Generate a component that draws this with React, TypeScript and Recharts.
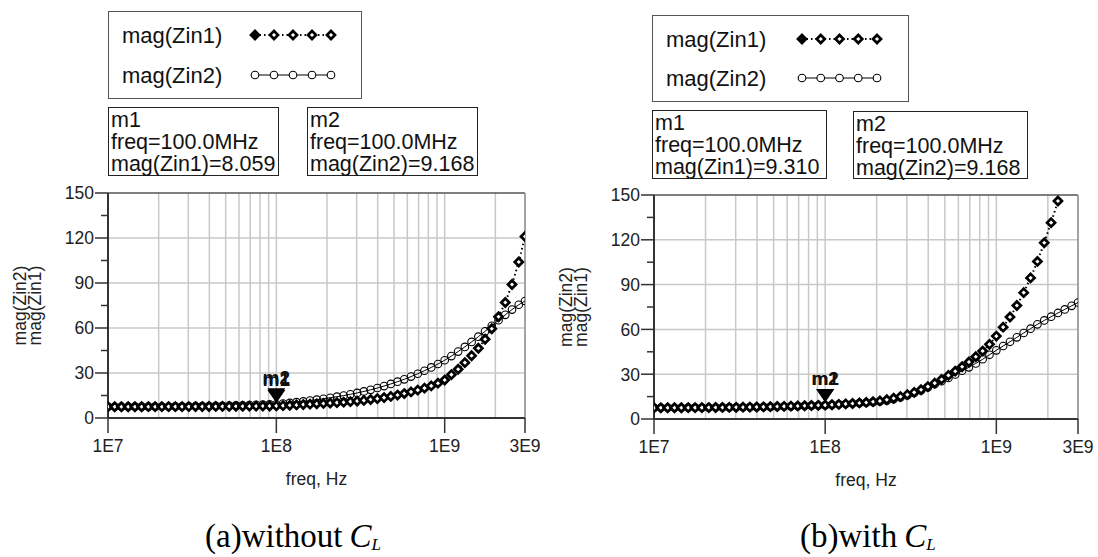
import { LineChart, Line, XAxis, YAxis, ReferenceLine, ReferenceDot } from 'recharts'

// sweep points, MHz (log sweep 1E7..3E9)
const freqMHz = [
  10, 10.96, 12.02, 13.18, 14.45, 15.85, 17.38, 19.05, 20.89, 22.91, 25.12, 27.54, 30.2, 33.11, 36.31,
  39.81, 43.65, 47.86, 52.48, 57.54, 63.1, 69.18, 75.86, 83.18, 91.2, 100, 109.6, 120.2, 131.8, 144.5,
  158.5, 173.8, 190.5, 208.9, 229.1, 251.2, 275.4, 302, 331.1, 363.1, 398.1, 436.5, 478.6, 524.8, 575.4,
  631, 691.8, 758.6, 831.8, 912, 1000, 1096, 1202, 1318, 1445, 1585, 1738, 1905, 2089, 2291, 2512, 2754,
  3000,
]

// (a) without CL
const zin1A = [
  7.5, 7.5, 7.51, 7.51, 7.52, 7.52, 7.53, 7.54, 7.55, 7.56, 7.57, 7.58, 7.6, 7.62, 7.64, 7.66, 7.69, 7.72,
  7.75, 7.79, 7.83, 7.87, 7.92, 7.97, 8.01, 8.06, 8.25, 8.45, 8.7, 8.95, 9.2, 9.45, 9.7, 9.95, 10.25,
  10.55, 10.9, 11.3, 11.75, 12.3, 12.9, 13.6, 14.4, 15.3, 16.3, 17.4, 18.6, 19.9, 21.4, 23.2, 25.3, 28.9,
  32.5, 36.9, 41.5, 46.5, 52.5, 59.5, 67.5, 77, 89, 104, 121,
]
const zin2A = [
  7.5, 7.51, 7.52, 7.53, 7.55, 7.57, 7.59, 7.62, 7.65, 7.68, 7.72, 7.76, 7.81, 7.86, 7.92, 7.99, 8.07,
  8.16, 8.26, 8.37, 8.49, 8.62, 8.76, 8.91, 9.04, 9.17, 9.6, 10.05, 10.55, 11.05, 11.6, 12.2, 12.85, 13.5,
  14.2, 14.95, 15.8, 16.7, 17.7, 18.8, 20, 21.3, 22.7, 24.2, 25.8, 27.6, 29.5, 31.5, 33.7, 36, 38.5, 41.3,
  44.3, 47.4, 50.7, 54.2, 57.8, 61.5, 65.2, 68.8, 72.3, 75.5, 78,
]

// (b) with CL
const zin1B = [
  7.5, 7.51, 7.52, 7.53, 7.55, 7.57, 7.6, 7.63, 7.66, 7.7, 7.74, 7.79, 7.84, 7.9, 7.97, 8.05, 8.14, 8.24,
  8.35, 8.47, 8.6, 8.74, 8.88, 9.02, 9.16, 9.31, 9.55, 9.8, 10.1, 10.4, 10.75, 11.1, 11.6, 12.1, 12.9,
  13.9, 15, 16.3, 17.8, 19.6, 21.7, 24, 26.5, 29.2, 32, 35, 38.2, 41.7, 45.5, 50, 55.5, 61.5, 68.3, 76,
  84.6, 94.5, 105.5, 118, 131.5, 146, null, null, null,
]
const zin2B = [
  7.5, 7.51, 7.52, 7.53, 7.55, 7.57, 7.59, 7.62, 7.65, 7.68, 7.72, 7.76, 7.81, 7.86, 7.92, 7.99, 8.07,
  8.16, 8.26, 8.37, 8.49, 8.62, 8.76, 8.91, 9.04, 9.17, 9.45, 9.75, 10.05, 10.35, 10.65, 11, 11.35, 11.75,
  12.3, 13.2, 14.4, 15.8, 17.4, 19.2, 21.2, 23.3, 25.3, 27.5, 29.8, 32.3, 34.6, 37.2, 40, 43, 46, 48.9,
  51.7, 54.7, 57.6, 60.5, 63.4, 66, 68.5, 71, 73.4, 75.8, 78,
]

const freqTicks = [1e7, 1e8, 1e9, 3e9]
const freqTickLabels = ['1E7', '1E8', '1E9', '3E9']
const freqGrid = [
  2e7, 3e7, 4e7, 5e7, 6e7, 7e7, 8e7, 9e7, 1e8, 2e8, 3e8, 4e8, 5e8, 6e8, 7e8, 8e8, 9e8, 1e9, 2e9,
]
const magTicks = [0, 15, 30, 45, 60, 75, 90, 105, 120, 135, 150]
const magGrid = [30, 60, 90, 120]

const markerFreq = 1e8
const markersA = [
  { name: 'm1', trace: 'mag(Zin1)', value: 8.059 },
  { name: 'm2', trace: 'mag(Zin2)', value: 9.168 },
]
const markersB = [
  { name: 'm1', trace: 'mag(Zin1)', value: 9.31 },
  { name: 'm2', trace: 'mag(Zin2)', value: 9.168 },
]

const SANS = "'Liberation Sans', Arial, sans-serif"
const SERIF = "'Liberation Serif', 'Times New Roman', serif"

const diamondPath = (x: number, y: number, s: number) =>
  `M${x} ${y - s}L${x + s} ${y}L${x} ${y + s}L${x - s} ${y}Z`

const DiamondDot = (props: any) => {
  const { cx, cy, index } = props
  if (cx == null || cy == null) return <g key={`d${index}`} />
  return <path key={`d${index}`} d={diamondPath(cx, cy, 4)} fill="#fff" stroke="#000" strokeWidth={2.7} />
}

const CircleDot = (props: any) => {
  const { cx, cy, index } = props
  if (cx == null || cy == null) return <g key={`c${index}`} />
  return <circle key={`c${index}`} cx={cx} cy={cy} r={3.8} fill="none" stroke="#000" strokeWidth={1.1} />
}

const YTick = ({ x, y, payload }: any) => {
  const major = payload.value % 30 === 0
  return (
    <g>
      <line x1={x - (major ? 13 : 7)} x2={x} y1={y} y2={y} stroke="#333" strokeWidth={1.5} />
      {major && (
        <text x={x - 14} y={y} dy="0.36em" textAnchor="end" fontFamily={SANS} fontSize={17.5} fill="#222">
          {payload.value}
        </text>
      )}
    </g>
  )
}

const XTick = ({ x, y, payload }: any) => {
  const i = freqTicks.indexOf(payload.value)
  return (
    <g>
      <line x1={x} x2={x} y1={y} y2={y + 15} stroke="#333" strokeWidth={1.5} />
      <text x={x} y={y + 28} dy="0.36em" textAnchor="middle" fontFamily={SANS} fontSize={17.5} fill="#222">
        {freqTickLabels[i]}
      </text>
    </g>
  )
}

const MarkerFlag = ({ cx, cy, name }: any) => {
  if (cx == null || cy == null) return null
  const tip = cy - 3
  return (
    <g>
      <path d={`M${cx} ${tip}L${cx - 9} ${tip - 13}L${cx + 9} ${tip - 13}Z`} fill="#000" />
      <text x={cx} y={tip - 17} textAnchor="middle" fontFamily={SANS} fontWeight="bold" fontSize={19} fill="#111">
        {name}
      </text>
    </g>
  )
}

type Box = { x: number; y: number; w: number; h: number }

type PanelProps = {
  left: number
  zin1: (number | null)[]
  zin2: (number | null)[]
  markers: { name: string; trace: string; value: number }[]
  plot: { left: number; top: number; right: number; bottom: number }
  legend: Box & { textX: number; symX0: number; symX1: number; rows: number[] }
  boxes: Box[]
  caption: { x: number; text: string }
}

function Panel({ left, zin1, zin2, markers, plot, legend, boxes, caption }: PanelProps) {
  const W = 549
  const H = 557
  const rows = freqMHz.map((f, i) => ({ freq: f * 1e6, zin1: zin1[i], zin2: zin2[i] }))
  const midX = (plot.left + plot.right) / 2
  const midY = (plot.top + plot.bottom) / 2
  const symXs = [0, 1, 2, 3, 4].map((i) => legend.symX0 + (i * (legend.symX1 - legend.symX0)) / 4)

  return (
    <div style={{ position: 'absolute', left, top: 0, width: W, height: H }}>
      <LineChart
        width={W}
        height={H}
        data={rows}
        margin={{ top: plot.top, right: W - plot.right, left: 0, bottom: H - plot.bottom - 40 }}
      >
        {freqGrid.map((v) => (
          <ReferenceLine key={`vx${v}`} x={v} stroke="#c8c8c8" strokeWidth={1.5} />
        ))}
        {magGrid.map((v) => (
          <ReferenceLine key={`hy${v}`} y={v} stroke="#c8c8c8" strokeWidth={1.5} />
        ))}
        <ReferenceLine y={150} stroke="#555" strokeWidth={1.3} />
        <ReferenceLine x={3e9} stroke="#999" strokeWidth={1.8} />
        <XAxis
          dataKey="freq"
          type="number"
          scale="log"
          domain={[1e7, 3e9]}
          allowDataOverflow
          ticks={freqTicks}
          interval={0}
          tick={(p: any) => <XTick {...p} />}
          tickLine={false}
          tickSize={0}
          tickMargin={0}
          height={40}
          axisLine={{ stroke: '#333', strokeWidth: 2 }}
        />
        <YAxis
          type="number"
          domain={[0, 150]}
          allowDataOverflow
          ticks={magTicks}
          interval={0}
          tick={(p: any) => <YTick {...p} />}
          tickLine={false}
          tickSize={0}
          tickMargin={0}
          width={plot.left}
          axisLine={{ stroke: '#333', strokeWidth: 2 }}
        />
        <Line
          dataKey="zin2"
          type="linear"
          stroke="#000"
          strokeWidth={1}
          dot={CircleDot}
          activeDot={false}
          isAnimationActive={false}
        />
        <Line
          dataKey="zin1"
          type="linear"
          stroke="#000"
          strokeWidth={2}
          strokeDasharray="1.5 3"
          dot={DiamondDot}
          activeDot={false}
          isAnimationActive={false}
        />
        {markers.map((m) => (
          <ReferenceDot
            key={m.name}
            x={markerFreq}
            y={m.value}
            r={0}
            shape={(p: any) => <MarkerFlag cx={p.cx} cy={p.cy} name={m.name} />}
          />
        ))}
      </LineChart>

      <svg
        width={W}
        height={H}
        style={{ position: 'absolute', left: 0, top: 0, pointerEvents: 'none' }}
        fontFamily={SANS}
      >
        {/* legend */}
        <rect x={legend.x + 0.5} y={legend.y + 0.5} width={legend.w} height={legend.h} fill="#fff" stroke="#555" strokeWidth={1} />
        <text x={legend.textX} y={legend.rows[0]} dy="0.36em" fontSize={22} fill="#111">
          mag(Zin1)
        </text>
        <text x={legend.textX} y={legend.rows[1]} dy="0.36em" fontSize={22} fill="#111">
          mag(Zin2)
        </text>
        <line
          x1={legend.symX0}
          x2={legend.symX1}
          y1={legend.rows[0]}
          y2={legend.rows[0]}
          stroke="#000"
          strokeWidth={2}
          strokeDasharray="1.5 3"
        />
        {symXs.map((x, i) => (
          <path
            key={`ld${i}`}
            d={diamondPath(x, legend.rows[0], 4)}
            fill={i === 0 ? '#000' : '#fff'}
            stroke="#000"
            strokeWidth={2.7}
          />
        ))}
        <line x1={legend.symX0} x2={legend.symX1} y1={legend.rows[1]} y2={legend.rows[1]} stroke="#000" strokeWidth={1} />
        {symXs.map((x, i) => (
          <circle key={`lc${i}`} cx={x} cy={legend.rows[1]} r={3.8} fill="#fff" stroke="#000" strokeWidth={1.1} />
        ))}

        {/* marker readouts */}
        {markers.map((m, i) => {
          const b = boxes[i]
          return (
            <g key={`box${m.name}`}>
              <rect x={b.x + 0.5} y={b.y + 0.5} width={b.w} height={b.h} fill="#fff" stroke="#222" strokeWidth={1} />
              <text x={b.x + 3} fontSize={21.5} fill="#111">
                <tspan x={b.x + 3} y={b.y + 20}>{m.name}</tspan>
                <tspan x={b.x + 3} y={b.y + 42}>freq=100.0MHz</tspan>
                <tspan x={b.x + 3} y={b.y + 64}>
                  {m.trace}={m.value.toFixed(3)}
                </tspan>
              </text>
            </g>
          )
        })}

        {/* axis titles */}
        <g transform={`translate(${plot.left - 82}, ${midY}) rotate(-90)`}>
          <text x={0} y={0} textAnchor="middle" fontSize={17.5} fill="#222">
            mag(Zin2)
          </text>
          <text x={0} y={15} textAnchor="middle" fontSize={17.5} fill="#222">
            mag(Zin1)
          </text>
        </g>
        <text x={midX} y={plot.bottom + 67} textAnchor="middle" fontSize={17.5} fill="#222">
          freq, Hz
        </text>

        {/* caption */}
        <text x={caption.x} y={547} fontFamily={SERIF} fontSize={33} fill="#000">
          {caption.text}
          <tspan dx={7} fontStyle="italic">
            C
          </tspan>
          <tspan fontStyle="italic" fontSize={17} dy={3}>
            L
          </tspan>
        </text>
      </svg>
    </div>
  )
}

export default function App() {
  return (
    <div style={{ position: 'absolute', left: 0, top: 0, width: 1098, height: 557, background: '#fff', overflow: 'hidden' }}>
      <Panel
        left={0}
        zin1={zin1A}
        zin2={zin2A}
        markers={markersA}
        plot={{ left: 108, top: 193, right: 525, bottom: 418 }}
        legend={{ x: 108, y: 11, w: 253, h: 87, textX: 122, symX0: 255, symX1: 331, rows: [35, 75] }}
        boxes={[
          { x: 108, y: 107, w: 170, h: 68 },
          { x: 307, y: 107, w: 170, h: 68 },
        ]}
        caption={{ x: 205, text: '(a)without' }}
      />
      <Panel
        left={549}
        zin1={zin1B}
        zin2={zin2B}
        markers={markersB}
        plot={{ left: 105, top: 195, right: 529, bottom: 419 }}
        legend={{ x: 103, y: 15, w: 256, h: 86, textX: 117, symX0: 253, symX1: 328, rows: [39, 78] }}
        boxes={[
          { x: 103, y: 110, w: 174, h: 68 },
          { x: 304, y: 111, w: 174, h: 67 },
        ]}
        caption={{ x: 251, text: '(b)with' }}
      />
    </div>
  )
}
